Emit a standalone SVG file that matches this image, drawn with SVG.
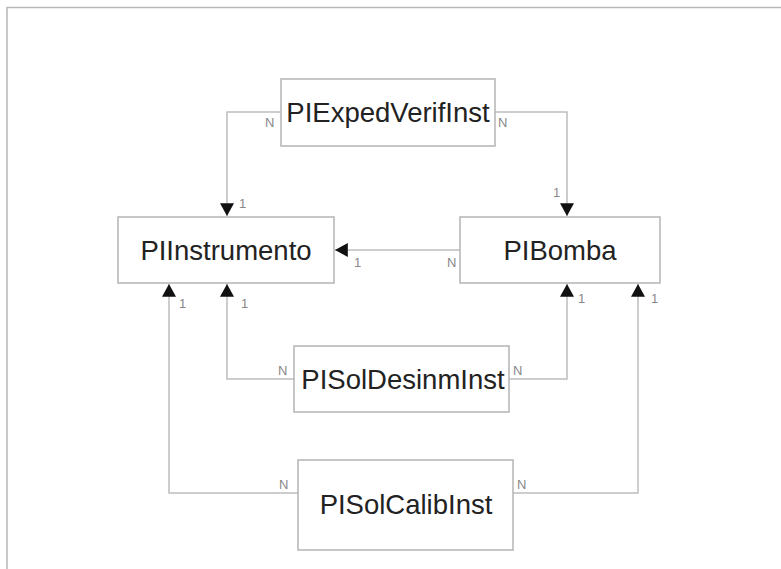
<svg xmlns="http://www.w3.org/2000/svg" width="781" height="569" viewBox="0 0 781 569">
<defs>
<marker id="arr" markerUnits="userSpaceOnUse" markerWidth="14" markerHeight="14" viewBox="0 0 12 12" refX="11" refY="6" orient="auto">
<path d="M0,0 L11,6 L0,12 Z" fill="#111"/>
</marker>
</defs>
<style>
.box{fill:#fff;stroke:#b4b4b4;stroke-width:1.5}
.name{font-family:"Liberation Sans",Arial,sans-serif;font-size:27.5px;fill:#222;text-anchor:middle}
.lbl{font-family:"Liberation Sans",Arial,sans-serif;font-size:13px;fill:#888}
.conn{fill:none;stroke:#bdbdbd;stroke-width:1.5}
.frame{fill:none;stroke:#b8b8b8;stroke-width:1.5}
</style>
<rect width="781" height="569" fill="#fff"/>
<path class="frame" d="M7,569 V7.5 H781"/>
<g id="connectors">
<path class="conn" d="M281,112 H227 V216" marker-end="url(#arr)"/>
<path class="conn" d="M495,112 H567 V216" marker-end="url(#arr)"/>
<path class="conn" d="M460,250 H335" marker-end="url(#arr)"/>
<path class="conn" d="M294,379 H227 V284" marker-end="url(#arr)"/>
<path class="conn" d="M509,379 H567 V284" marker-end="url(#arr)"/>
<path class="conn" d="M298,493 H169 V284" marker-end="url(#arr)"/>
<path class="conn" d="M513,493 H638 V284" marker-end="url(#arr)"/>
<text class="lbl" x="265" y="127">N</text>
<text class="lbl" x="239" y="208">1</text>
<text class="lbl" x="498" y="127">N</text>
<text class="lbl" x="553" y="197">1</text>
<text class="lbl" x="354" y="267">1</text>
<text class="lbl" x="447" y="267">N</text>
<text class="lbl" x="179" y="308">1</text>
<text class="lbl" x="241" y="308">1</text>
<text class="lbl" x="578" y="303">1</text>
<text class="lbl" x="651" y="303">1</text>
<text class="lbl" x="278" y="375">N</text>
<text class="lbl" x="513" y="375">N</text>
<text class="lbl" x="279" y="489">N</text>
<text class="lbl" x="517" y="489">N</text>
</g>
<g id="PIExpedVerifInst">
<rect class="box" x="281" y="79" width="214" height="67"/>
<text class="name" x="388" y="122">PIExpedVerifInst</text>
</g>
<g id="PIInstrumento">
<rect class="box" x="118" y="217" width="216" height="66"/>
<text class="name" x="226" y="260">PIInstrumento</text>
</g>
<g id="PIBomba">
<rect class="box" x="460" y="217" width="200" height="66"/>
<text class="name" x="560" y="260">PIBomba</text>
</g>
<g id="PISolDesinmInst">
<rect class="box" x="294" y="346" width="215" height="66"/>
<text class="name" x="403" y="389">PISolDesinmInst</text>
</g>
<g id="PISolCalibInst">
<rect class="box" x="298" y="460" width="215" height="90"/>
<text class="name" x="406" y="514">PISolCalibInst</text>
</g>
</svg>
